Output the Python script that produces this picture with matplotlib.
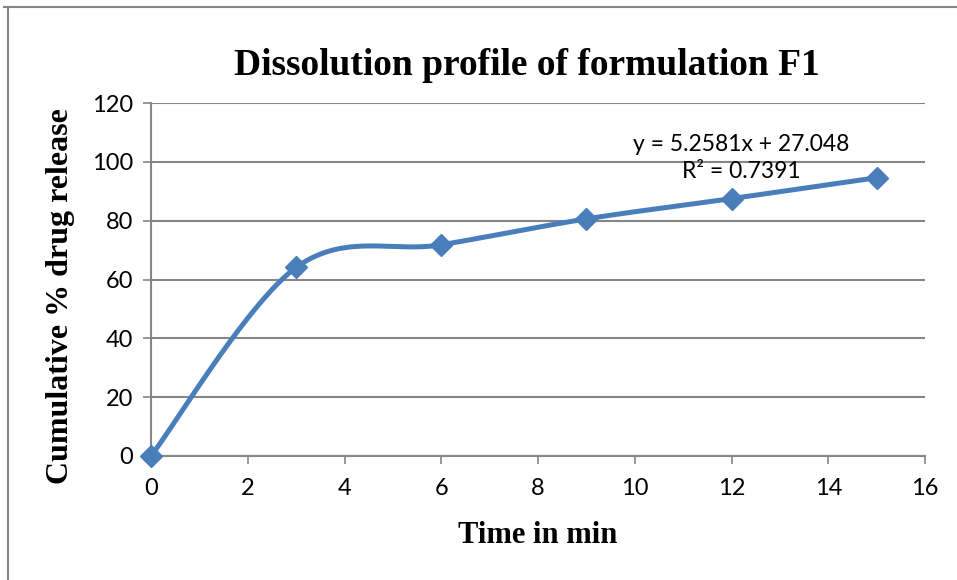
import numpy as np
import matplotlib
matplotlib.use('Agg')
import matplotlib.pyplot as plt
from matplotlib.lines import Line2D

time_min = [0, 3, 6, 9, 12, 15]
release = [0, 64.1, 71.8, 80.6, 87.5, 94.6]
equation = 'y = 5.2581x + 27.048\nR² = 0.7391'

BLUE = '#4A7EBB'
GRID = '#868686'


def smooth_curve(xs, ys, n=40):
    # Catmull-Rom style bezier, like the spreadsheet "smoothed line"
    pts = np.column_stack([xs, ys]).astype(float)
    out = []
    for i in range(len(pts) - 1):
        p0 = pts[i - 1] if i > 0 else pts[i]
        p1 = pts[i]
        p2 = pts[i + 1]
        p3 = pts[i + 2] if i + 2 < len(pts) else pts[i + 1]
        c1 = p1 + (p2 - p0) / 6
        c2 = p2 - (p3 - p1) / 6
        t = np.linspace(0, 1, n)[:, None]
        seg = ((1 - t) ** 3) * p1 + 3 * ((1 - t) ** 2) * t * c1 + 3 * (1 - t) * t ** 2 * c2 + t ** 3 * p2
        out.append(seg)
    out = np.vstack(out)
    return out[:, 0], out[:, 1]


fig = plt.figure(figsize=(9.57, 5.8), dpi=100)
ax = fig.add_axes([0.1578, 0.2138, 0.8088, 0.6086])

sx, sy = smooth_curve(time_min, release)
ax.plot(sx, sy, color=BLUE, lw=3.6, solid_capstyle='round', zorder=3)
ax.plot(time_min, release, ls='none', marker='D', ms=11, color=BLUE, zorder=4, clip_on=False)

ax.set_xlim(0, 16)
ax.set_ylim(0, 120)
ax.set_xticks(range(0, 17, 2))
ax.set_yticks(range(0, 121, 20))
ax.yaxis.grid(True, color=GRID, lw=1.5)
ax.set_axisbelow(True)
for s in ['top', 'right']:
    ax.spines[s].set_visible(False)
for s in ['left', 'bottom']:
    ax.spines[s].set_color(GRID)
    ax.spines[s].set_linewidth(1.5)
ax.tick_params(axis='both', direction='out', length=6, width=1.2, color=GRID,
               labelsize=17)
ax.tick_params(axis='x', pad=10)
ax.tick_params(axis='y', pad=7)
for lab in ax.get_xticklabels() + ax.get_yticklabels():
    lab.set_fontfamily('Lato')

ax.text(12.2, 101.3, equation, ha='center', va='center', fontsize=16.5,
        family='Lato', linespacing=1.4)

ax.set_title('Dissolution profile of formulation F1', family='Liberation Serif',
             fontweight='bold', fontsize=27, pad=20, x=0.486)
ax.set_xlabel('Time in min', family='Liberation Serif', fontweight='bold',
              fontsize=22, labelpad=16)
ax.set_ylabel('Cumulative % drug release', family='Liberation Serif',
              fontweight='bold', fontsize=23, labelpad=12)
ax.yaxis.label.set_y(0.453)

# chart-area border (only top and left visible in the crop)
fig.add_artist(Line2D([0.004, 1.0], [0.988, 0.988], color=GRID, lw=1.5, transform=fig.transFigure))
fig.add_artist(Line2D([0.008, 0.008], [0.0, 0.988], color=GRID, lw=1.5, transform=fig.transFigure))

fig.savefig('out.png', dpi=100)
